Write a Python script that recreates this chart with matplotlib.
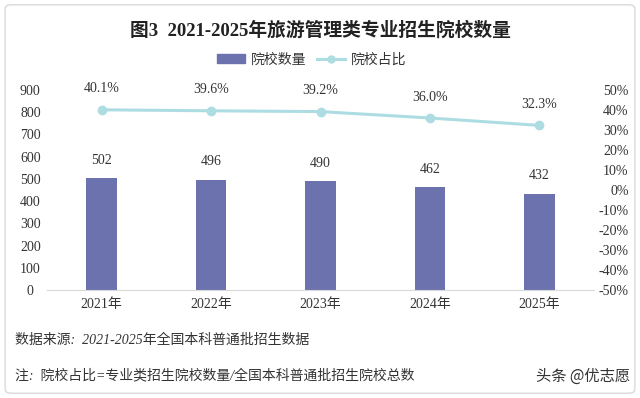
import matplotlib
matplotlib.use("Agg")
import matplotlib.pyplot as plt
from matplotlib.patches import FancyBboxPatch
from matplotlib.lines import Line2D
from matplotlib.patches import Patch
import numpy as np

plt.rcParams['font.family'] = ['Liberation Serif', 'Noto Sans CJK SC', 'DejaVu Sans']

years = ["2021年", "2022年", "2023年", "2024年", "2025年"]
counts = [502, 496, 490, 462, 432]
shares = [40.1, 39.6, 39.2, 36.0, 32.3]
left_ticks = [0, 100, 200, 300, 400, 500, 600, 700, 800, 900]
right_ticks = [-50, -40, -30, -20, -10, 0, 10, 20, 30, 40, 50]

title = "图3  2021-2025年旅游管理类专业招生院校数量"
source = "数据来源:  2021-2025年全国本科普通批招生数据"
note = "注:  院校占比=专业类招生院校数量/全国本科普通批招生院校总数"
brand = "头条 @优志愿"

bar_color = "#6b72ad"
line_color = "#addde2"
text_color = "#333333"

fig = plt.figure(figsize=(6.4, 3.98), dpi=100)
fig.patch.set_facecolor("white")

# outer border
border = FancyBboxPatch((0.008, 0.012), 0.984, 0.976, boxstyle="round,pad=0,rounding_size=0.01",
                        transform=fig.transFigure, fill=False, edgecolor="#d9d9d9", linewidth=1.0)
fig.patches.append(border)

ax = fig.add_axes([47/640, 1-290/398, (594-47)/640, 200/398])
x = np.arange(len(years))
ax.bar(x, counts, width=0.28, color=bar_color, zorder=2)
ax.set_xlim(-0.5, len(years)-0.5)
ax.set_ylim(0, 900)
ax.set_yticks(left_ticks)
ax.set_yticklabels([str(t) for t in left_ticks], fontsize=10, color=text_color)
ax.set_xticks(x)
ax.set_xticklabels(years, fontsize=10, color=text_color)
for s in ["top", "right", "left"]:
    ax.spines[s].set_visible(False)
ax.spines["bottom"].set_color("#d9d9d9")
ax.tick_params(axis="both", length=0)
ax.tick_params(axis="y", pad=12)
ax.tick_params(axis="x", pad=6)
for lbl in ax.get_yticklabels():
    lbl.set_horizontalalignment("center")

for xi, c in zip(x, counts):
    ax.annotate(str(c), (xi, c), xytext=(0, 13), textcoords="offset points",
                ha="center", va="center", fontsize=10, color=text_color)

ax2 = ax.twinx()
ax2.plot(x, shares, color=line_color, linewidth=2.2, marker="o", markersize=6,
         markerfacecolor=line_color, markeredgecolor=line_color, zorder=3)
ax2.set_ylim(-50, 50)
ax2.set_yticks(right_ticks)
ax2.set_yticklabels([f"{t}%" for t in right_ticks], fontsize=10, color=text_color)
for s in ["top", "right", "left", "bottom"]:
    ax2.spines[s].set_visible(False)
ax2.tick_params(axis="y", length=0, pad=25)
for lbl in ax2.get_yticklabels():
    lbl.set_horizontalalignment("right")

for xi, s in zip(x, shares):
    ax2.annotate(f"{s:.1f}%", (xi, s), xytext=(0, 15), textcoords="offset points",
                 ha="center", va="center", fontsize=10, color=text_color)

fig.text(0.5, 1-30/398, title, ha="center", va="center", fontsize=13.5, fontweight="bold", color="#222222")

handles = [Patch(facecolor=bar_color, edgecolor=bar_color),
           Line2D([0], [0], color=line_color, linewidth=2.2, marker="o", markersize=5)]
fig.legend(handles, ["院校数量", "院校占比"], loc="center", bbox_to_anchor=(0.487, 1-60/398),
           ncol=2, frameon=False, fontsize=10, handlelength=2.0, handleheight=0.6,
           columnspacing=0.8, handletextpad=0.4, labelcolor=text_color)

fig.text(15/640, 1-340/398, source, ha="left", va="center", fontsize=10, style="italic", color=text_color)
fig.text(15/640, 1-376/398, note, ha="left", va="center", fontsize=10, style="italic", color=text_color)
fig.text(630/640, 1-376/398, brand, ha="right", va="center", fontsize=11, color="#333333",
         family=['Noto Sans CJK SC', 'DejaVu Sans'])

fig.savefig("out.png", dpi=100)
